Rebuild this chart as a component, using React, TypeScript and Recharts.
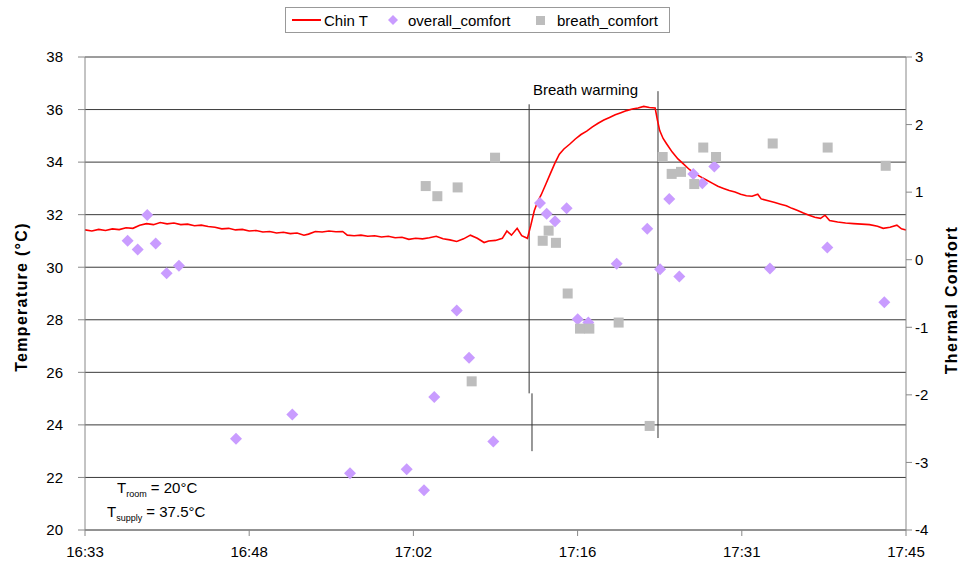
import {
  ComposedChart,
  Line,
  Scatter,
  XAxis,
  YAxis,
  CartesianGrid,
  ReferenceLine
} from 'recharts'

// minutes after 16:33
const chinTimes = [
  0, 0.6, 1.2, 1.8, 2.4, 3.0, 3.6, 4.2, 4.8, 5.4, 6.0, 6.6, 7.2, 7.8, 8.4, 9.0, 9.6, 10.2, 10.8, 11.4,
  12.0, 12.6, 13.2, 13.8, 14.4, 15.0, 15.6, 16.2, 16.8, 17.4, 18.0, 18.6, 19.2, 19.6, 20.2, 20.8, 21.4,
  22.0, 22.6, 23.0, 23.6, 24.2, 24.8, 25.4, 26.0, 26.6, 27.2, 27.8, 28.4, 29.0, 29.6, 30.2, 30.8, 31.4,
  32.0, 32.6, 33.2, 33.8, 34.4, 35.0, 35.4, 36.0, 36.6, 37.0, 37.4, 37.9, 38.3, 38.8,
  39.1, 39.4, 39.7, 40.0, 40.4, 40.8, 41.2, 41.6, 42.0, 42.5, 43.0, 43.5, 44.0, 44.5, 45.0, 45.5, 46.0,
  46.5, 47.0, 47.5, 48.0, 48.5, 49.0, 49.5, 50.0,
  50.2, 50.4, 50.7, 51.0, 51.5, 52.0, 52.5, 53.0, 53.5, 54.0, 54.5, 55.0, 55.5, 56.0, 56.5, 57.0, 57.5,
  58.0, 58.5, 59.0, 59.3, 60.0, 60.5, 61.0, 61.5, 62.0, 62.5, 63.0, 63.5, 64.0, 64.5, 64.9, 65.3, 66.0,
  66.7, 67.4, 68.1, 68.8, 69.5, 70.0, 70.6, 71.2, 71.6, 72.0
]
const chinTemps = [
  31.42, 31.38, 31.44, 31.4, 31.46, 31.43, 31.5, 31.48, 31.6, 31.66, 31.62, 31.7, 31.65, 31.68, 31.62, 31.64, 31.58, 31.6, 31.55, 31.52,
  31.46, 31.48, 31.42, 31.44, 31.38, 31.4, 31.34, 31.36, 31.3, 31.33, 31.28, 31.3, 31.22, 31.26, 31.36, 31.34, 31.38,
  31.35, 31.36, 31.22, 31.2, 31.22, 31.18, 31.2, 31.15, 31.18, 31.12, 31.14, 31.06, 31.1, 31.08, 31.12, 31.18, 31.08,
  31.04, 30.98, 31.08, 31.22, 31.1, 30.94, 31.0, 31.02, 31.1, 31.38, 31.22, 31.48, 31.2, 31.1,
  31.6, 32.15, 32.5, 32.75, 33.15, 33.55, 33.95, 34.3, 34.5, 34.68, 34.88, 35.05, 35.18, 35.34, 35.48, 35.6, 35.7,
  35.8, 35.88, 35.96, 36.02, 36.06, 36.12, 36.08, 36.06,
  35.6, 35.2, 34.9, 34.7, 34.38, 34.12, 33.92, 33.72, 33.56, 33.44, 33.32, 33.2, 33.08, 33.0, 32.92, 32.86, 32.78,
  32.72, 32.7, 32.78, 32.6, 32.52, 32.46, 32.4, 32.34, 32.24, 32.16, 32.06, 31.98, 31.9, 31.86, 31.98, 31.78, 31.72,
  31.68, 31.66, 31.64, 31.62, 31.56, 31.48, 31.52, 31.6, 31.46, 31.42
]

const overallTimes = [
  3.74, 4.62, 5.46, 6.2, 7.16, 8.24, 13.24, 18.18, 23.24, 28.21, 29.73, 30.63, 32.6, 33.68, 35.81,
  39.9, 40.49, 41.22, 42.24, 43.21, 44.14, 46.63, 49.31, 50.43, 51.24, 52.12, 53.35, 54.14, 55.19,
  60.07, 65.1, 70.1
]
const overallVotes = [
  0.28, 0.15, 0.66, 0.24, -0.2, -0.09, -2.65, -2.29, -3.16, -3.1, -3.41, -2.03, -0.75, -1.45, -2.69,
  0.84, 0.68, 0.57, 0.76, -0.88, -0.93, -0.06, 0.46, -0.14, 0.9, -0.25, 1.27, 1.13, 1.38,
  -0.13, 0.18, -0.63
]

const breathTimes = [
  29.88, 30.9, 32.68, 33.91, 35.96, 40.14, 40.66, 41.3, 42.33, 43.41, 44.23, 46.8, 49.52,
  50.66, 51.45, 52.27, 53.43, 54.22, 55.34, 60.31, 65.13, 70.22
]
const breathVotes = [
  1.09, 0.94, 1.07, -1.8, 1.51, 0.28, 0.43, 0.25, -0.5, -1.02, -1.02, -0.93, -2.46,
  1.52, 1.27, 1.3, 1.12, 1.66, 1.52, 1.72, 1.66, 1.39
]

const xTicks = [0, 14.4, 28.8, 43.2, 57.6, 72]
const xTickLabels = ['16:33', '16:48', '17:02', '17:16', '17:31', '17:45']
const tempTicks = [20, 22, 24, 26, 28, 30, 32, 34, 36, 38]
const comfortTicks = [-4, -3, -2, -1, 0, 1, 2, 3]

// "Breath warming" markers: time, temp from, temp to
const markTimes = [38.95, 39.2, 50.25]
const markFrom = [36.2, 25.2, 36.7]
const markTo = [25.2, 23.0, 23.5]

const chinData = chinTimes.map((t, i) => ({ t, temp: chinTemps[i] }))
const overallData = overallTimes.map((t, i) => ({ t, v: overallVotes[i] }))
const breathData = breathTimes.map((t, i) => ({ t, v: breathVotes[i] }))

const FONT = '"Liberation Sans", Arial, sans-serif'
const PURPLE = '#c99cff'
const GREY = '#bdbdbd'

function Diamond(props: any) {
  const { cx, cy } = props
  return <polygon points={`${cx},${cy - 6} ${cx + 6},${cy} ${cx},${cy + 6} ${cx - 6},${cy}`} fill={PURPLE} />
}

function Square(props: any) {
  const { cx, cy } = props
  return <rect x={cx - 5} y={cy - 5} width={10} height={10} fill={GREY} />
}

const axisTitle = (text: string, x: number, y: number) => () => (
  <text
    x={x}
    y={y}
    transform={`rotate(-90 ${x} ${y})`}
    textAnchor="middle"
    dominantBaseline="central"
    fontFamily={FONT}
    fontWeight="bold"
    fontSize={16}
    letterSpacing={1.3}
    fill="#000"
  >
    {text}
  </text>
)

export default function App() {
  const tick = { fill: '#000', fontSize: 15, fontFamily: FONT }
  return (
    <div style={{ position: 'absolute', left: 0, top: 0, width: 962, height: 567, background: '#fff' }}>
      <ComposedChart width={962} height={567} margin={{ top: 57, right: 0, bottom: 0, left: 0 }}>
        <CartesianGrid yAxisId="temp" vertical={false} stroke="#3a3a3a" strokeWidth={1} />
        <XAxis
          type="number"
          dataKey="t"
          domain={[0, 72]}
          ticks={xTicks}
          tickFormatter={(v) => xTickLabels[xTicks.indexOf(v)]}
          height={37}
          stroke="#888"
          tickSize={6}
          tickMargin={10}
          tick={tick}
        />
        <YAxis
          yAxisId="temp"
          domain={[20, 38]}
          ticks={tempTicks}
          width={85}
          stroke="#888"
          tickSize={7}
          tickMargin={15}
          tick={tick}
          label={{ content: axisTitle('Temperature (°C)', 21, 297) }}
        />
        <YAxis
          yAxisId="comfort"
          orientation="right"
          domain={[-4, 3]}
          ticks={comfortTicks}
          width={56}
          stroke="#888"
          tickSize={6}
          tickMargin={3}
          tick={{ ...tick, textAnchor: 'start' }}
          label={{ content: axisTitle('Thermal Comfort', 951, 300) }}
        />
        {markTimes.map((t, i) => (
          <ReferenceLine
            key={i}
            yAxisId="temp"
            segment={[{ x: t, y: markFrom[i] }, { x: t, y: markTo[i] }]}
            stroke="#333"
            strokeWidth={1}
          />
        ))}
        <Line
          data={chinData}
          yAxisId="temp"
          dataKey="temp"
          stroke="#ff0000"
          strokeWidth={1.6}
          dot={false}
          isAnimationActive={false}
        />
        <Scatter data={overallData} yAxisId="comfort" dataKey="v" shape={Diamond} isAnimationActive={false} />
        <Scatter data={breathData} yAxisId="comfort" dataKey="v" shape={Square} isAnimationActive={false} />
      </ComposedChart>

      {/* legend */}
      <div
        style={{
          position: 'absolute', left: 285, top: 7, width: 383, height: 24, border: '1px solid #999',
          background: '#fff', fontFamily: FONT, fontSize: 15, color: '#000'
        }}
      >
        <svg width={383} height={24} style={{ position: 'absolute', left: 0, top: 0 }}>
          <line x1={6} y1={12} x2={35} y2={12} stroke="#ff0000" strokeWidth={2} />
          <polygon points="107,7 112,12 107,17 102,12" fill={PURPLE} />
          <rect x={250} y={8} width={9} height={9} fill={GREY} />
          <text x={38} y={12} dominantBaseline="central" fontFamily={FONT} fontSize={15}>Chin T</text>
          <text x={122} y={12} dominantBaseline="central" fontFamily={FONT} fontSize={15}>overall_comfort</text>
          <text x={271} y={12} dominantBaseline="central" fontFamily={FONT} fontSize={15}>breath_comfort</text>
        </svg>
      </div>

      {/* annotations */}
      <div style={{ position: 'absolute', left: 533, top: 81, fontFamily: FONT, fontSize: 15, lineHeight: '17px' }}>
        Breath warming
      </div>
      <div style={{ position: 'absolute', left: 117, top: 479, fontFamily: FONT, fontSize: 15, lineHeight: '17px' }}>
        T<sub style={{ fontSize: 9 }}>room</sub> = 20°C
      </div>
      <div style={{ position: 'absolute', left: 107, top: 503, fontFamily: FONT, fontSize: 15, lineHeight: '17px' }}>
        T<sub style={{ fontSize: 9 }}>supply</sub> = 37.5°C
      </div>
    </div>
  )
}
